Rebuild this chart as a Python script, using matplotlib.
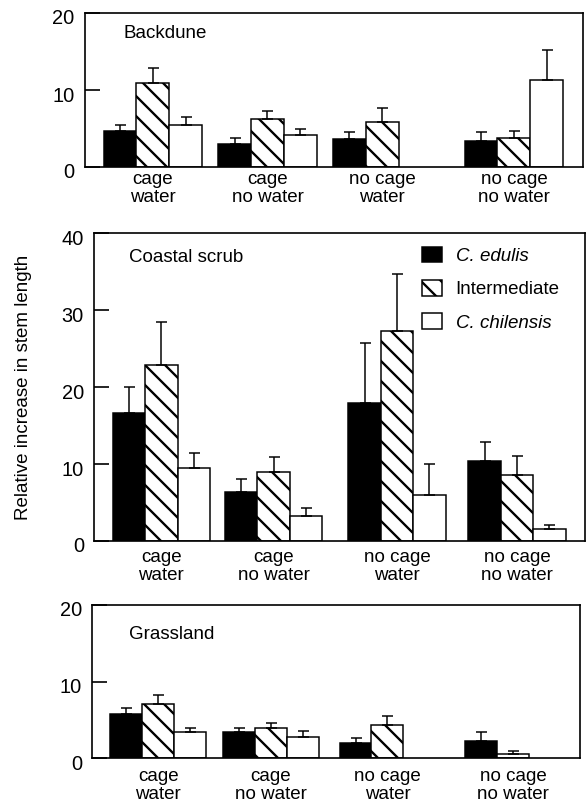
import numpy as np
import matplotlib
matplotlib.use('Agg')
import matplotlib.pyplot as plt
from matplotlib.patches import Patch
from matplotlib.transforms import ScaledTranslation

groups = ["cage\nwater", "cage\nno water", "no cage\nwater", "no cage\nno water"]
species = ["C. edulis", "Intermediate", "C. chilensis"]

# Backdune (mean, upper error)
back_edulis = [4.7, 3.0, 3.6, 3.4]
back_edulis_se = [0.8, 0.8, 1.0, 1.1]
back_inter = [10.9, 6.2, 5.8, 3.8]
back_inter_se = [1.9, 1.1, 1.8, 0.85]
back_chil = [5.4, 4.1, np.nan, 11.3]
back_chil_se = [1.1, 0.8, np.nan, 3.9]

# Coastal scrub
coast_edulis = [16.6, 6.4, 17.9, 10.4]
coast_edulis_se = [3.4, 1.7, 7.8, 2.4]
coast_inter = [22.8, 9.0, 27.3, 8.6]
coast_inter_se = [5.6, 1.9, 7.4, 2.5]
coast_chil = [9.5, 3.2, 6.0, 1.5]
coast_chil_se = [1.9, 1.1, 4.0, 0.55]

# Grassland
grass_edulis = [5.7, 3.4, 2.0, 2.2]
grass_edulis_se = [0.8, 0.55, 0.6, 1.2]
grass_inter = [7.1, 3.95, 4.3, np.nan]
grass_inter_se = [1.1, 0.65, 1.2, np.nan]
grass_chil = [3.35, 2.8, np.nan, 0.55]
grass_chil_se = [0.6, 0.7, np.nan, 0.35]

DPI = 120
plt.rc('font', family='Liberation Sans', size=11.25)
plt.rc('hatch', linewidth=1.4)

fills = ['k', 'w', 'w']
hatches = [None, '\\\\', None]


def draw_panel(fig, rect, title, title_xy, means, errs, centers, ymax, xpad):
    ax = fig.add_axes(rect)
    for i, c in enumerate(centers):
        slot = 0
        for k in range(3):
            m = means[k][i]
            if np.isnan(m):
                continue
            x = c + slot - 1
            slot = slot + 1
            ax.bar(x, m, width=1.0, color=fills[k], edgecolor='k',
                   linewidth=0.9, hatch=hatches[k], zorder=2)
            ax.errorbar(x, m, yerr=[[0], [errs[k][i]]], fmt='none', ecolor='k',
                        elinewidth=0.9, capsize=3.3, capthick=0.9, zorder=3)
    ax.set_xlim(-2.08, centers[-1] + 2.1)
    ax.set_ylim(0, ymax)
    ax.set_yticks(np.arange(0, ymax + 1, 10))
    ax.set_xticks(centers)
    ax.set_xticklabels(groups, linespacing=1.05)
    ax.tick_params(axis='x', length=0, pad=xpad, labelsize=11.25)
    ax.tick_params(axis='y', direction='in', length=9, width=1.0, pad=6, labelsize=12)
    for s in ax.spines.values():
        s.set_linewidth(1.0)
    for lbl in ax.get_yticklabels():
        lbl.set_transform(lbl.get_transform() + ScaledTranslation(0, -4 / DPI, fig.dpi_scale_trans))
    ax.text(title_xy[0], title_xy[1], title, transform=ax.transAxes, ha='left', va='center')
    return ax


fig = plt.figure(figsize=(588 / DPI, 809 / DPI), dpi=DPI)

draw_panel(fig, [84.5 / 588, 1 - 167 / 809, 498.5 / 588, 154 / 809], "Backdune", (0.079, 0.87),
           [back_edulis, back_inter, back_chil], [back_edulis_se, back_inter_se, back_chil_se],
           [0, 3.48, 6.97, 10.97], 20, 2.5)

ax2 = draw_panel(fig, [94 / 588, 1 - 541 / 809, 491 / 588, 308 / 809], "Coastal scrub", (0.071, 0.919),
                 [coast_edulis, coast_inter, coast_chil], [coast_edulis_se, coast_inter_se, coast_chil_se],
                 [0, 3.47, 7.28, 10.99], 40, 5)

draw_panel(fig, [92 / 588, 1 - 758 / 809, 488 / 588, 153 / 809], "Grassland", (0.076, 0.804),
           [grass_edulis, grass_inter, grass_chil], [grass_edulis_se, grass_inter_se, grass_chil_se],
           [0, 3.54, 7.2, 11.15], 20, 6)

handles = [Patch(facecolor='k', edgecolor='k', linewidth=0.9),
           Patch(facecolor='w', edgecolor='k', linewidth=0.9, hatch='\\\\'),
           Patch(facecolor='w', edgecolor='k', linewidth=0.9)]
leg = ax2.legend(handles, species, loc='upper left', bbox_to_anchor=(0.668, 0.955),
                 frameon=False, borderpad=0, borderaxespad=0, handlelength=1.05,
                 handleheight=0.9, handletextpad=0.75, labelspacing=0.8)
leg.get_texts()[0].set_style('italic')
leg.get_texts()[2].set_style('italic')

fig.text(24 / 588, 1 - 387 / 809, "Relative increase in stem length", rotation=90,
         ha='center', va='center')

fig.savefig('out.png', dpi=DPI)
